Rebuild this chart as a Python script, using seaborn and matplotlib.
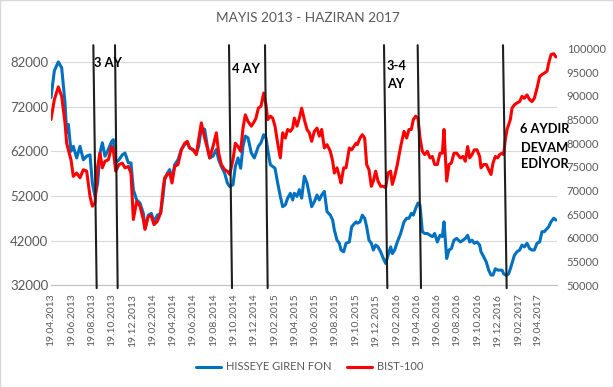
import pandas as pd
import matplotlib
matplotlib.use("Agg")
import matplotlib.pyplot as plt
import matplotlib.dates as mdates
import matplotlib.transforms as mtransforms
from matplotlib.patches import Rectangle
import seaborn as sns

start = pd.Timestamp("2013-04-19")

# days after 19.04.2013 (weekly-ish readings)
day_offsets = [
    0, 10, 22, 32, 42, 47, 52, 60, 67, 77, 87, 97, 107, 117, 124, 132, 140, 147, 154, 162,
    172, 182, 187, 194, 204, 214, 222, 232, 240, 247, 257, 267, 277, 282, 292,
    301, 309, 319, 329, 336, 341, 349, 356, 363, 371, 381, 391, 401, 409, 416, 426, 436, 443,
    451, 461, 469, 476, 486, 496, 503, 511, 521, 529, 536, 546, 553, 561, 569, 576, 583, 591, 601,
    610, 615, 622, 630, 638, 645, 650, 658, 665, 672, 680, 688, 695, 703, 710, 718, 725, 730,
    738, 745, 752, 760, 768, 775, 782, 790, 798, 805, 812, 820, 828, 838, 845, 850, 858, 865,
    870, 878, 885, 895, 902, 915,
    919, 927, 934, 941, 947, 954, 961, 967, 974, 981, 989, 997, 1004, 1011, 1019, 1024, 1031,
    1039, 1049, 1059, 1067, 1074, 1081, 1087, 1094, 1101, 1107, 1114, 1121, 1129, 1137, 1144,
    1151, 1159, 1167, 1174, 1179, 1187, 1194, 1201, 1209, 1217,
    1228, 1236, 1243, 1250, 1256, 1263, 1270, 1278, 1286, 1290, 1298, 1306, 1313, 1320, 1326,
    1333, 1340, 1346, 1353, 1358, 1363, 1368, 1373, 1378, 1383, 1390, 1398, 1406, 1413, 1420,
    1428, 1436, 1443, 1450, 1458, 1466, 1473, 1480, 1488, 1493, 1500, 1508, 1515,
]

hisseye_giren_fon = [
    74000, 80000, 82000, 80700, 72900, 66100, 68000, 62000, 63100, 60500, 63100, 60100, 60900,
    61200, 54900, 51900, 54900, 61600, 63900, 60900, 62400, 64200, 64600, 59400, 60100, 61200,
    61600, 59400, 59400, 53400, 51100, 50400, 48100, 44700, 47700,
    48100, 46200, 47700, 48100, 51900, 55600, 57100, 57900, 55600, 59000, 60100, 62400, 63500,
    63900, 62700, 62400, 61600, 63100, 67200, 66900, 63100, 60500, 60900, 62400, 60100, 58600,
    57100, 54900, 54100, 54500, 58600, 60500, 58200, 63100, 65400, 65000, 61600,
    60500, 61600, 63100, 63900, 65700, 65000, 62400, 59000, 58600, 58200, 54900, 51900, 49600,
    50000, 51500, 52600, 51100, 52600, 51900, 53400, 51500, 56400, 54900, 52200, 49600, 50700,
    52200, 51100, 52200, 53000, 48500, 47700, 46600, 44400, 42100, 41400, 39900, 39500, 41400,
    41700, 45100, 46200,
    45900, 46200, 47700, 47000, 45100, 42100, 41400, 39900, 41000, 40600, 39500, 38000, 36900,
    38700, 40600, 39100, 39900, 41700, 43600, 46200, 47000, 47000, 48100, 47700, 49200, 50400,
    50000, 44000, 43600, 43600, 43200, 42900, 43600, 41700, 43200, 42900, 46200, 38000, 39900,
    40200, 42100, 42500,
    41700, 42100, 42500, 43200, 41700, 42100, 41400, 41700, 41000, 39500, 38400, 37200, 35400,
    34300, 34300, 35700, 35400, 35400, 35400, 34600, 34300, 34300, 34600, 35700, 36900, 38700,
    39500, 39900, 41000, 40600, 41400, 40200, 39900, 39900, 41400, 41700, 44000, 44000, 44700,
    45100, 46200, 47000, 46600,
]

bist_100 = [
    85000, 89200, 91900, 89900, 84300, 80000, 78600, 76500, 73000, 73700, 72700, 74400, 74100,
    68800, 66700, 67400, 75100, 77900, 74800, 76200, 76500, 79300, 78600, 74100, 75500, 75800,
    74800, 75100, 73700, 63900, 67700, 66700, 63900, 61800, 64600,
    64600, 62800, 63500, 65300, 70200, 72700, 73400, 73700, 71600, 75100, 75500, 78600, 80000,
    80400, 79000, 78600, 77600, 80800, 84300, 81100, 79000, 76900, 79300, 82200, 77900, 75500,
    74400, 74100, 73400, 76500, 80000, 79300, 78300, 83200, 86000, 84600, 83600,
    84600, 85300, 87400, 87800, 90600, 88100, 85000, 85700, 85300, 83600, 80000, 76900, 82200,
    81100, 82900, 82500, 83200, 85300, 83600, 85300, 87400, 85000, 82900, 82200, 80400, 82500,
    83200, 81500, 82900, 79000, 79700, 78300, 76200, 73700, 74800, 73000, 71600, 74800, 74800,
    79000, 78600, 80000,
    79700, 81100, 81800, 81100, 75500, 74400, 70900, 72000, 74100, 72000, 70900, 70900, 70600,
    73700, 74100, 71300, 73000, 75500, 79300, 82500, 81100, 82900, 82900, 85000, 85700, 85300,
    81100, 78300, 77600, 78300, 76900, 77200, 75500, 75500, 77900, 77900, 82900, 72000, 75500,
    75800, 77900, 77900,
    76900, 77200, 76200, 79300, 76900, 77600, 78600, 78600, 77200, 74800, 75500, 75500, 74400,
    73400, 75800, 77200, 76900, 77600, 77900, 77600, 80800, 82900, 83900, 85000, 87400, 88100,
    88500, 88800, 89900, 89500, 90200, 89200, 88800, 89500, 91600, 94100, 94500, 94800, 95200,
    96900, 98700, 98900, 98200,
]

# hand-drawn period markers (top date, bottom date)
period_lines = [
    ("2013-08-24", "2013-09-03"),
    ("2013-10-28", "2013-11-05"),
    ("2014-10-05", "2014-10-14"),
    ("2015-01-21", "2015-01-29"),
    ("2016-01-13", "2016-01-23"),
    ("2016-04-23", "2016-05-03"),
    ("2017-01-04", "2017-01-15"),
]

df = pd.DataFrame({
    "date": start + pd.to_timedelta(day_offsets, unit="D"),
    "fon": hisseye_giren_fon,
    "bist": bist_100,
})

sns.set_theme(style="white")
plt.rcParams["font.family"] = ["Lato", "DejaVu Sans"]

grey = "#595959"
fig = plt.figure(figsize=(6.13, 3.87), dpi=100)
ax = fig.add_axes([51 / 613, 1 - 285.3 / 387, (557 - 51) / 613, (285.3 - 48.5) / 387])
ax2 = ax.twinx()

sns.lineplot(data=df, x="date", y="fon", ax=ax, color="#0070C0", linewidth=2.2, legend=False)
sns.lineplot(data=df, x="date", y="bist", ax=ax2, color="#FF0000", linewidth=2.2, legend=False)
for ln in ax.lines + ax2.lines:
    ln.set_solid_joinstyle("round")

ax.set_xlim(start, start + pd.Timedelta(days=1518))
ax.set_ylim(32000, 85000)
ax2.set_ylim(50000, 100000)
ax.set_yticks(range(32000, 82001, 10000))
ax2.set_yticks(range(50000, 100001, 5000))

tick_dates = pd.date_range("2013-04-19", "2017-04-19", freq=pd.DateOffset(months=2))
ax.set_xticks(tick_dates)
ax.xaxis.set_major_formatter(mdates.DateFormatter("%d.%m.%Y"))

ax.tick_params(axis="x", rotation=90, labelsize=7.5, labelcolor=grey, length=3,
               color="#BFBFBF", width=0.8, pad=3)
ax.tick_params(axis="y", length=0, labelsize=9.5, labelcolor=grey, pad=2)
ax2.tick_params(axis="y", length=0, labelsize=8, labelcolor=grey, pad=7)

ax.yaxis.grid(True, color="#D9D9D9", linewidth=0.8)
ax.xaxis.grid(False)
ax2.grid(False)
for s in ["top", "left", "right"]:
    ax.spines[s].set_visible(False)
ax.spines["bottom"].set_color("#BFBFBF")
ax.spines["bottom"].set_linewidth(0.8)
for s in ax2.spines.values():
    s.set_visible(False)
ax.set_xlabel("")
ax.set_ylabel("")
ax2.set_ylabel("")

# period markers drawn over the series
trans = mtransforms.blended_transform_factory(ax2.transData, ax2.transAxes)
for top, bottom in period_lines:
    xs = mdates.date2num([pd.Timestamp(top), pd.Timestamp(bottom)])
    ax2.plot(xs, [1.014, -0.012], transform=trans, clip_on=False,
             color="#1F1F1F", linewidth=1.5)

fig.text(0.503, 1 - 18 / 387, "MAYIS 2013 - HAZIRAN 2017", ha="center", va="center",
         fontsize=9.8, color=grey)

notes = [
    ("3 AY", 94, 66.7),
    ("4 AY", 232, 72.7),
    ("3-4", 387, 70),
    ("AY", 387, 88.3),
    ("6 AYDIR", 520.5, 133.3),
    ("DEVAM", 520.5, 151.7),
    ("EDİYOR", 520.5, 168.3),
]
for txt, px, py in notes:
    fig.text(px / 613, 1 - py / 387, txt, ha="left", va="baseline",
             fontsize=9.3, fontweight="bold", color="black")

handles = [ax.lines[0], ax2.lines[0]]
fig.legend(handles, ["HISSEYE GIREN FON", "BIST-100"], loc="center",
           bbox_to_anchor=(0.505, 1 - 367 / 387), ncol=2, frameon=False, fontsize=8,
           handlelength=2.3, handletextpad=0.4, columnspacing=1.4, labelcolor=grey)

fig.patches.append(Rectangle((0, 0), 1, 1, transform=fig.transFigure, fill=False,
                             edgecolor="#D9D9D9", linewidth=1))

fig.savefig("out.png", dpi=100, facecolor="white")
